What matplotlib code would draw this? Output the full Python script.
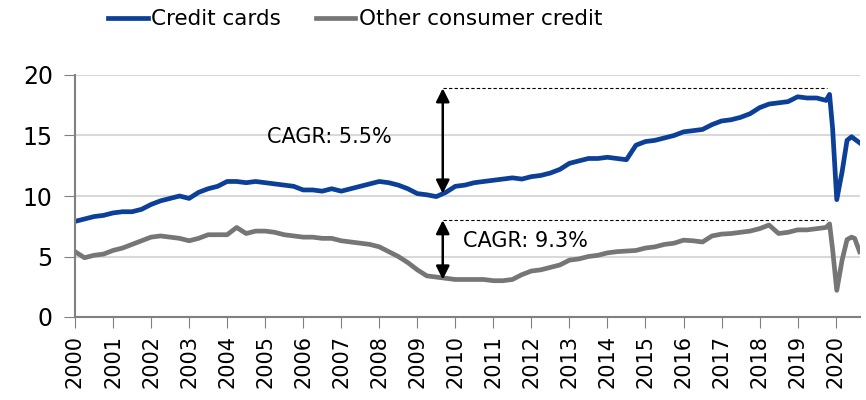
import matplotlib
matplotlib.use("Agg")
import matplotlib.pyplot as plt
import numpy as np

# ---- data ----
years_q = [2000 + i * 0.25 for i in range(80)]  # 2000.00 .. 2019.75 quarterly
tail_dates = [2019.84, 2019.92, 2020.03, 2020.17, 2020.30, 2020.42, 2020.50, 2020.63]

credit_cards_q = [
    7.9, 8.1, 8.3, 8.4,
    8.6, 8.7, 8.7, 8.9,
    9.3, 9.6, 9.8, 10.0,
    9.8, 10.3, 10.6, 10.8,
    11.2, 11.2, 11.1, 11.2,
    11.1, 11.0, 10.9, 10.8,
    10.5, 10.5, 10.4, 10.6,
    10.4, 10.6, 10.8, 11.0,
    11.2, 11.1, 10.9, 10.6,
    10.2, 10.1, 9.95, 10.3,
    10.8, 10.9, 11.1, 11.2,
    11.3, 11.4, 11.5, 11.4,
    11.6, 11.7, 11.9, 12.2,
    12.7, 12.9, 13.1, 13.1,
    13.2, 13.1, 13.0, 14.2,
    14.5, 14.6, 14.8, 15.0,
    15.3, 15.4, 15.5, 15.9,
    16.2, 16.3, 16.5, 16.8,
    17.3, 17.6, 17.7, 17.8,
    18.2, 18.1, 18.1, 17.9,
]
credit_cards_tail = [18.4, 15.6, 9.7, 12.0, 14.6, 14.9, 14.7, 14.4]

other_q = [
    5.4, 4.9, 5.1, 5.2,
    5.5, 5.7, 6.0, 6.3,
    6.6, 6.7, 6.6, 6.5,
    6.3, 6.5, 6.8, 6.8,
    6.8, 7.4, 6.9, 7.1,
    7.1, 7.0, 6.8, 6.7,
    6.6, 6.6, 6.5, 6.5,
    6.3, 6.2, 6.1, 6.0,
    5.8, 5.4, 5.0, 4.5,
    3.9, 3.4, 3.3, 3.2,
    3.1, 3.1, 3.1, 3.1,
    3.0, 3.0, 3.1, 3.5,
    3.8, 3.9, 4.1, 4.3,
    4.7, 4.8, 5.0, 5.1,
    5.3, 5.4, 5.45, 5.5,
    5.7, 5.8, 6.0, 6.1,
    6.35, 6.3, 6.2, 6.7,
    6.85, 6.9, 7.0, 7.1,
    7.3, 7.6, 6.9, 7.0,
    7.2, 7.2, 7.3, 7.4,
]
other_tail = [7.7, 5.6, 2.2, 4.7, 6.4, 6.6, 6.5, 5.4]

dates = years_q + tail_dates
credit_cards = credit_cards_q + credit_cards_tail
other_credit = other_q + other_tail

year_ticks = list(range(2000, 2021))
y_ticks = [0, 5, 10, 15, 20]

cagr_x = 2009.67
cagr_end = 2019.76
cc_top, cc_bot = 18.9, 10.2
oc_top, oc_bot = 8.0, 3.1

# ---- figure ----
plt.rcParams['font.family'] = ['DejaVu Sans']
fig = plt.figure(figsize=(8.66, 4.0), dpi=100)
ax = fig.add_axes([0.0866, 0.2075, 0.906, 0.605])

blue = '#0B3F98'
grey = '#767676'
ax.plot(dates, credit_cards, color=blue, lw=3.4, label='Credit cards', solid_joinstyle='round')
ax.plot(dates, other_credit, color=grey, lw=3.4, label='Other consumer credit', solid_joinstyle='round')

ax.set_xlim(2000, 2020.63)
ax.set_ylim(0, 20)
ax.set_yticks(y_ticks)
ax.set_xticks(year_ticks)
ax.set_xticklabels([str(y) for y in year_ticks], rotation=90, fontsize=15)
ax.tick_params(axis='y', labelsize=17, length=8, color='#808080', pad=8)
ax.tick_params(axis='x', length=8, color='#808080', pad=5)
ax.grid(axis='y', color='#d9d9d9', lw=1.5)
ax.set_axisbelow(True)
for s in ['top', 'right']:
    ax.spines[s].set_visible(False)
for s in ['left', 'bottom']:
    ax.spines[s].set_color('#808080')
    ax.spines[s].set_linewidth(1.5)

# CAGR annotations
for top, bot in [(cc_top, cc_bot), (oc_top, oc_bot)]:
    ax.plot([cagr_x, cagr_end], [top, top], color='black', lw=0.8, ls=(0, (3, 2)))
    ax.annotate('', xy=(cagr_x, bot), xytext=(cagr_x, top),
                arrowprops=dict(arrowstyle='<|-|>', color='black', lw=1.8,
                                mutation_scale=20, shrinkA=0, shrinkB=0))
ax.text(2006.68, 14.9, 'CAGR: 5.5%', fontsize=15, ha='center', va='center')
ax.text(2010.2, 6.3, 'CAGR: 9.3%', fontsize=15, ha='left', va='center')

leg = fig.legend(loc='upper center', bbox_to_anchor=(0.41, 1.025), ncol=2, frameon=False,
                 fontsize=15.5, handlelength=1.85, handletextpad=0.15, columnspacing=1.6)

fig.savefig('out.png', dpi=100)
